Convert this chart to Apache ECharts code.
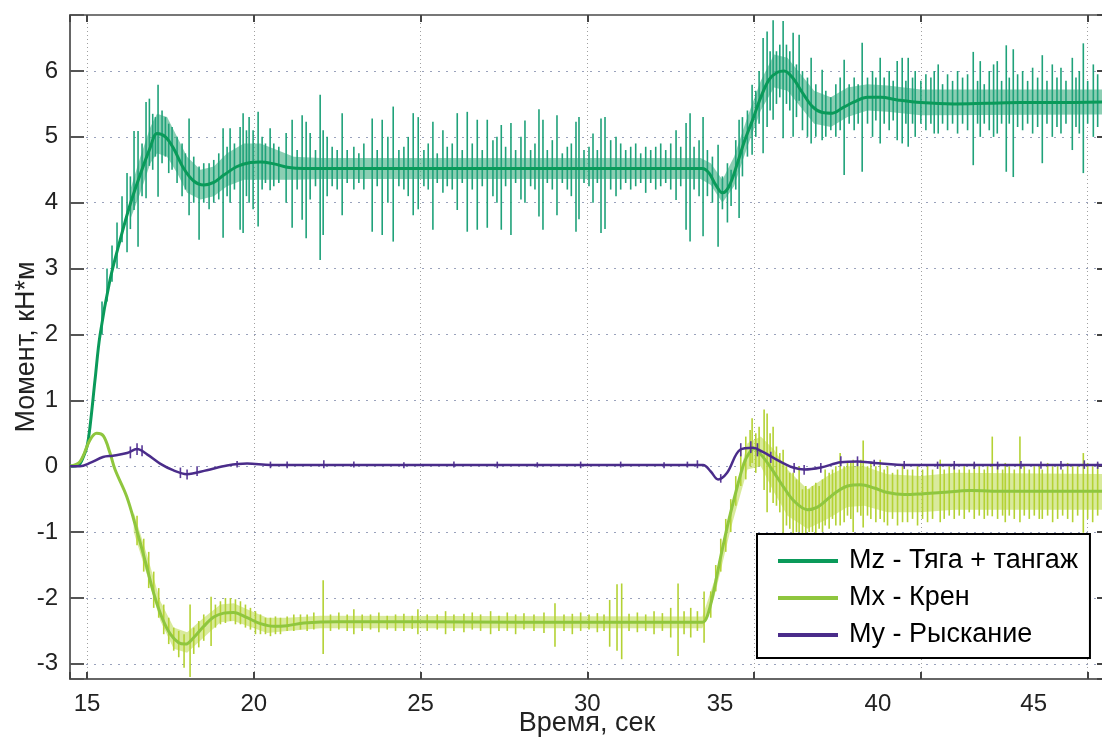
<!DOCTYPE html>
<html>
<head>
<meta charset="utf-8">
<title>Моменты</title>
<script src="https://cdn.jsdelivr.net/npm/echarts@6.0.0/dist/echarts.min.js"></script>
<style>
    html, body { margin: 0; padding: 0; background: #fff; }
    #chart { width: 1102px; height: 740px; }
</style>
</head>
<body>
<div id="chart"></div>
<script>
// названия серий
var seriesNames = ['Mz - Тяга + тангаж', 'Mx - Крен', 'My - Рыскание'];

// сглаженные кривые [время, момент]
var mzLine = [
    [14.49, 0], [14.75, 0.02], [14.88, 0.13], [15.0, 0.3], [15.09, 0.6], [15.24, 1.31], [15.39, 1.99],
    [15.69, 2.83], [15.99, 3.43], [16.29, 3.97], [16.59, 4.42], [16.89, 4.83], [17.1, 5.05], [17.35, 5.0],
    [17.6, 4.82], [17.9, 4.52], [18.2, 4.33], [18.5, 4.27], [18.8, 4.31], [19.1, 4.42], [19.5, 4.55],
    [19.9, 4.61], [20.2, 4.62], [20.6, 4.59], [21.0, 4.54], [21.5, 4.52], [22.5, 4.52], [24, 4.52],
    [26, 4.52], [28, 4.52], [30, 4.52], [32, 4.52], [33.45, 4.52], [33.65, 4.45], [33.85, 4.27],
    [34.05, 4.15], [34.25, 4.25], [34.5, 4.6], [34.7, 4.92], [34.95, 5.25], [35.2, 5.6], [35.45, 5.87],
    [35.7, 5.98], [35.9, 6.0], [36.15, 5.9], [36.45, 5.67], [36.75, 5.46], [37.05, 5.37], [37.35, 5.36],
    [37.65, 5.44], [38.0, 5.53], [38.4, 5.6], [38.8, 5.6], [39.3, 5.56], [40.0, 5.52], [41, 5.5],
    [42, 5.51], [43, 5.52], [44, 5.52], [45.49, 5.53]
];
var mxLine = [
    [14.49, 0], [14.79, 0.07], [15.09, 0.4], [15.29, 0.5], [15.49, 0.46], [15.69, 0.2], [15.84, -0.05],
    [16.19, -0.46], [16.49, -0.97], [16.75, -1.45], [17.0, -1.93], [17.25, -2.3], [17.5, -2.55],
    [17.75, -2.68], [17.95, -2.7], [18.2, -2.6], [18.5, -2.43], [18.8, -2.29], [19.1, -2.23],
    [19.39, -2.22], [19.8, -2.3], [20.2, -2.39], [20.6, -2.43], [21.0, -2.42], [21.5, -2.38],
    [22.5, -2.36], [25, -2.36], [28, -2.37], [31, -2.37], [33.45, -2.37], [33.6, -2.27],
    [33.8, -1.87], [34.0, -1.37], [34.25, -0.8], [34.5, -0.3], [34.7, 0.05], [34.85, 0.2],
    [35.0, 0.27], [35.2, 0.18], [35.5, -0.02], [35.9, -0.33], [36.2, -0.53], [36.6, -0.66],
    [36.9, -0.62], [37.2, -0.5], [37.5, -0.38], [37.8, -0.3], [38.2, -0.28], [38.6, -0.33],
    [39.0, -0.4], [39.5, -0.43], [40.0, -0.42], [40.6, -0.4], [41.5, -0.37], [42.5, -0.38], [45.49, -0.38]
];
var myLine = [
    [14.49, 0], [14.79, 0.0], [15.09, 0.05], [15.48, 0.14], [15.78, 0.16], [16.2, 0.2], [16.5, 0.26],
    [16.8, 0.18], [17.19, 0.04], [17.58, -0.06], [17.99, -0.12], [18.59, -0.06], [19.2, 0.01],
    [19.8, 0.04], [20.5, 0.02], [22, 0.02], [25, 0.02], [28, 0.02], [31, 0.02], [33.47, 0.02],
    [33.7, -0.08], [33.92, -0.2], [34.19, -0.1], [34.58, 0.25], [34.97, 0.28], [35.25, 0.22],
    [35.57, 0.13], [35.9, 0.04], [36.17, -0.02], [36.5, -0.05], [37.0, -0.02], [37.6, 0.06],
    [38.1, 0.07], [38.6, 0.05], [39.58, 0.02], [41, 0.02], [43, 0.02], [45.49, 0.02]
];

// полоса мелкого шума [время, низ, верх]
var mzBand = [
    [16.3, 3.75, 4.2], [16.6, 4.15, 4.7], [16.9, 4.6, 5.15], [17.1, 4.75, 5.35], [17.4, 4.7, 5.3],
    [17.7, 4.45, 5.0], [18.0, 4.15, 4.7], [18.4, 4.05, 4.5], [18.8, 4.1, 4.55], [19.2, 4.25, 4.75],
    [19.7, 4.35, 4.9], [20.2, 4.35, 4.9], [20.7, 4.35, 4.8], [21.2, 4.35, 4.7], [22, 4.36, 4.68],
    [33.4, 4.36, 4.68], [33.7, 4.27, 4.6], [34.05, 4.0, 4.35], [34.4, 4.25, 4.7], [34.8, 4.85, 5.3],
    [35.2, 5.4, 5.85], [35.6, 5.75, 6.25], [36.0, 5.7, 6.2], [36.4, 5.45, 5.95], [36.8, 5.2, 5.7],
    [37.3, 5.15, 5.6], [37.8, 5.3, 5.75], [38.4, 5.4, 5.8], [39.0, 5.38, 5.78], [40.0, 5.33, 5.72],
    [45.49, 5.34, 5.72]
];
var mxBand = [
    [16.4, -1.0, -0.7], [16.8, -1.65, -1.35], [17.2, -2.35, -2.05], [17.6, -2.77, -2.45],
    [18.0, -2.83, -2.52], [18.5, -2.6, -2.3], [19.0, -2.37, -2.1], [19.4, -2.35, -2.08],
    [19.8, -2.42, -2.17], [20.4, -2.53, -2.3], [21.0, -2.5, -2.3], [22, -2.46, -2.27],
    [33.45, -2.46, -2.28], [33.8, -2.0, -1.75], [34.3, -0.95, -0.65], [34.8, -0.05, 0.35],
    [35.2, 0.0, 0.45], [35.6, -0.4, 0.25], [36.0, -0.75, -0.05], [36.6, -0.95, -0.35],
    [37.2, -0.8, -0.15], [37.8, -0.62, 0.0], [38.3, -0.6, 0.0], [39.0, -0.7, -0.12],
    [40.0, -0.7, -0.15], [41.0, -0.66, -0.1], [45.49, -0.66, -0.12]
];

// выбросы [время, низ, верх]
var mzSpikes = [
    [15.45, 2.0, 2.5], [15.6, 2.5, 3.0], [15.75, 2.8, 3.35], [15.9, 3.0, 3.7], [16.05, 3.4, 4.1],
    [16.2, 3.25, 4.45], [16.3, 3.6, 4.4], [16.41, 3.89, 5.09], [16.53, 3.33, 5.09], [16.65, 4.1, 4.9],
    [16.77, 4.07, 5.53], [16.87, 4.56, 5.58], [16.97, 4.5, 5.35], [17.05, 4.7, 5.3], [17.13, 4.09, 5.79],
    [17.25, 4.6, 5.4], [17.35, 4.7, 5.3], [17.45, 4.45, 5.2], [17.55, 4.5, 5.15], [17.7, 4.3, 5.0],
    [17.85, 4.1, 4.9], [17.95, 4.2, 4.75], [18.06, 3.81, 5.28], [18.2, 4.0, 4.7], [18.36, 3.44, 4.55],
    [18.5, 4.0, 4.6], [18.66, 3.9, 4.6], [18.8, 4.0, 4.65], [18.95, 4.05, 4.75], [19.08, 3.47, 5.13],
    [19.2, 4.1, 4.85], [19.29, 4.0, 5.13], [19.42, 4.2, 4.9], [19.59, 3.59, 5.15], [19.68, 3.54, 5.36],
    [19.78, 4.1, 5.1], [19.86, 4.0, 5.3], [19.98, 3.9, 5.1], [20.13, 3.64, 5.38], [20.25, 4.2, 5.0],
    [20.35, 4.3, 4.9], [20.49, 4.19, 5.13], [20.6, 4.25, 4.9], [20.75, 4.3, 4.85], [20.97, 4.0, 5.06],
    [21.15, 3.62, 5.26], [21.3, 4.2, 4.8], [21.45, 3.74, 5.33], [21.57, 3.46, 5.23], [21.69, 4.05, 5.06],
    [21.85, 4.25, 4.8], [21.99, 3.13, 5.64], [22.08, 3.51, 5.1], [22.2, 4.1, 5.0], [22.35, 4.25, 4.85],
    [22.5, 4.2, 4.8], [22.65, 3.81, 5.36], [22.8, 4.3, 4.8], [23.0, 4.2, 4.85], [23.15, 4.3, 4.75],
    [23.3, 4.2, 4.9], [23.55, 3.56, 5.28], [23.7, 4.25, 4.8], [23.85, 3.51, 5.26], [24.02, 4.0, 5.0],
    [24.18, 3.41, 5.46], [24.35, 4.25, 4.8], [24.5, 4.2, 4.85], [24.63, 4.1, 5.0], [24.78, 3.81, 5.36],
    [24.93, 3.9, 5.3], [25.1, 4.25, 4.8], [25.23, 4.2, 4.9], [25.37, 3.59, 5.23], [25.5, 4.3, 4.75],
    [25.67, 4.15, 5.1], [25.8, 4.25, 4.85], [25.95, 4.2, 4.9], [26.1, 3.89, 5.36], [26.25, 4.3, 4.8],
    [26.4, 3.56, 5.38], [26.55, 4.2, 4.9], [26.7, 3.59, 5.26], [26.85, 4.25, 4.8], [27.0, 3.62, 5.26],
    [27.17, 4.1, 4.95], [27.29, 4.0, 5.0], [27.42, 3.59, 5.18], [27.55, 4.25, 4.85], [27.71, 3.51, 5.21],
    [27.85, 4.3, 4.8], [28.01, 4.05, 5.0], [28.13, 4.0, 5.25], [28.3, 4.25, 4.8], [28.43, 4.2, 4.9],
    [28.55, 3.79, 5.42], [28.67, 3.59, 5.26], [28.8, 4.3, 4.8], [28.95, 4.2, 4.95], [29.09, 3.81, 5.33],
    [29.25, 4.3, 4.75], [29.4, 4.2, 4.85], [29.52, 4.1, 4.9], [29.66, 3.56, 5.23], [29.75, 3.75, 5.3],
    [29.9, 4.3, 4.8], [30.05, 4.25, 4.85], [30.17, 4.0, 5.05], [30.3, 4.3, 4.8], [30.41, 3.54, 5.28],
    [30.53, 3.6, 5.3], [30.7, 4.2, 4.95], [30.86, 4.1, 5.0], [31.0, 4.2, 4.9], [31.15, 4.3, 4.8],
    [31.3, 4.2, 4.85], [31.45, 4.25, 4.9], [31.6, 4.3, 4.75], [31.75, 4.15, 4.85], [31.9, 4.3, 4.8],
    [32.05, 4.2, 4.85], [32.2, 4.25, 4.9], [32.35, 4.3, 4.8], [32.5, 4.2, 4.9], [32.66, 4.04, 5.1],
    [32.8, 4.25, 4.85], [32.96, 3.59, 5.21], [33.08, 3.41, 5.36], [33.2, 4.2, 4.85], [33.35, 4.1, 4.95],
    [33.47, 3.49, 5.3], [33.6, 4.1, 4.8], [33.75, 4.0, 4.7], [33.92, 3.33, 4.88], [34.05, 3.9, 4.4],
    [34.2, 3.7, 4.6], [34.31, 3.95, 4.5], [34.45, 4.2, 4.95], [34.55, 3.77, 5.26], [34.65, 4.4, 5.3],
    [34.8, 4.7, 5.4], [34.94, 4.73, 5.79], [35.05, 5.0, 5.7], [35.15, 5.2, 6.0], [35.27, 4.75, 6.5],
    [35.39, 5.15, 6.6], [35.48, 5.4, 6.3], [35.57, 5.26, 6.77], [35.67, 5.5, 6.3], [35.77, 5.6, 6.4],
    [35.87, 4.98, 6.76], [35.97, 5.5, 6.4], [36.07, 5.4, 6.3], [36.17, 5.0, 6.58], [36.27, 5.3, 6.1],
    [36.35, 5.55, 6.55], [36.45, 5.1, 6.0], [36.6, 5.0, 5.9], [36.71, 4.9, 6.2], [36.85, 5.0, 5.8],
    [37.04, 4.95, 6.02], [37.15, 5.0, 5.7], [37.3, 5.1, 5.6], [37.45, 5.0, 5.8], [37.58, 5.1, 5.9],
    [37.7, 4.42, 6.17], [37.85, 5.2, 5.8], [38.0, 5.1, 5.9], [38.12, 5.2, 5.8], [38.24, 4.47, 6.43],
    [38.4, 5.2, 5.9], [38.55, 5.0, 6.0], [38.65, 5.25, 5.9], [38.78, 4.9, 6.2], [38.9, 5.2, 5.9],
    [39.05, 5.1, 6.0], [39.17, 5.25, 5.85], [39.29, 4.95, 6.15], [39.44, 4.9, 6.2], [39.55, 5.2, 5.85],
    [39.62, 4.85, 6.2], [39.75, 5.2, 5.9], [39.83, 5.0, 6.0], [40.0, 5.2, 5.85], [40.15, 5.1, 5.95],
    [40.3, 5.2, 5.9], [40.4, 5.05, 6.0], [40.52, 5.05, 6.1], [40.65, 5.2, 5.8], [40.8, 5.1, 5.95],
    [40.95, 5.2, 5.85], [41.1, 5.05, 6.0], [41.25, 5.2, 5.9], [41.4, 5.1, 5.95], [41.57, 4.57, 6.29],
    [41.7, 5.2, 5.85], [41.78, 5.0, 6.15], [41.9, 5.2, 5.8], [42.05, 5.1, 6.0], [42.18, 5.0, 6.1],
    [42.29, 5.05, 6.15], [42.42, 5.2, 5.85], [42.56, 4.47, 6.39], [42.65, 5.2, 5.9], [42.77, 4.39, 6.33],
    [42.9, 5.15, 5.95], [43.05, 5.1, 6.0], [43.2, 5.2, 5.85], [43.35, 5.05, 6.05], [43.5, 5.15, 5.9],
    [43.64, 4.6, 6.24], [43.78, 5.2, 5.85], [43.94, 5.0, 6.1], [44.08, 5.15, 5.9], [44.2, 5.05, 6.05],
    [44.35, 5.2, 5.85], [44.54, 4.8, 6.2], [44.65, 5.15, 5.9], [44.75, 5.05, 6.0], [44.87, 4.45, 6.42],
    [45.0, 5.2, 5.85], [45.17, 5.0, 6.1], [45.3, 5.15, 5.95]
];
var mxSpikes = [
    [16.5, -1.2, -0.75], [16.7, -1.6, -1.1], [16.85, -1.85, -1.3], [17.0, -2.15, -1.6], [17.15, -2.3, -1.85],
    [17.3, -2.55, -2.1], [17.45, -2.7, -2.3], [17.6, -2.8, -2.45], [17.75, -2.9, -2.5], [17.91, -3.06, -2.55],
    [18.09, -3.2, -2.1], [18.2, -2.85, -2.45], [18.35, -2.75, -2.35], [18.5, -2.65, -2.25], [18.72, -2.73, -1.98],
    [18.85, -2.45, -2.1], [19.0, -2.4, -2.05], [19.15, -2.38, -2.0], [19.3, -2.35, -2.0], [19.45, -2.4, -2.02],
    [19.6, -2.4, -2.05], [19.75, -2.45, -2.1], [19.9, -2.48, -2.15], [20.05, -2.55, -2.2], [20.2, -2.55, -2.25],
    [20.35, -2.55, -2.3], [20.5, -2.58, -2.3], [20.65, -2.55, -2.28], [20.8, -2.55, -2.3], [21.0, -2.5, -2.28],
    [21.2, -2.5, -2.25], [21.4, -2.48, -2.25], [21.6, -2.5, -2.25], [21.8, -2.48, -2.22], [22.08, -2.85, -1.73],
    [22.3, -2.5, -2.25], [22.55, -2.48, -2.22], [22.8, -2.5, -2.25], [23.0, -2.55, -2.17], [23.25, -2.5, -2.25],
    [23.5, -2.48, -2.25], [23.75, -2.52, -2.22], [24.0, -2.48, -2.27], [24.25, -2.5, -2.25], [24.5, -2.5, -2.24],
    [24.75, -2.47, -2.27], [24.92, -2.55, -2.17], [25.2, -2.5, -2.25], [25.5, -2.48, -2.25], [25.75, -2.55, -2.2],
    [26.0, -2.5, -2.25], [26.3, -2.52, -2.24], [26.55, -2.48, -2.22], [26.8, -2.5, -2.25], [27.1, -2.55, -2.2],
    [27.35, -2.5, -2.27], [27.6, -2.5, -2.22], [27.85, -2.55, -2.25], [28.1, -2.48, -2.23], [28.4, -2.5, -2.25],
    [28.7, -2.53, -2.22], [29.03, -2.74, -2.08], [29.3, -2.5, -2.25], [29.55, -2.55, -2.24], [29.8, -2.5, -2.22],
    [30.05, -2.48, -2.25], [30.3, -2.52, -2.23], [30.5, -2.5, -2.25], [30.67, -2.74, -2.03], [30.89, -2.8, -1.79],
    [31.03, -2.93, -1.78], [31.25, -2.5, -2.24], [31.5, -2.52, -2.22], [31.75, -2.5, -2.25], [32.0, -2.55, -2.2],
    [32.25, -2.5, -2.23], [32.5, -2.6, -2.15], [32.72, -2.88, -1.78], [32.9, -2.55, -2.2], [33.1, -2.6, -2.15],
    [33.3, -2.5, -2.2], [33.5, -2.68, -1.9], [33.7, -2.3, -1.9], [33.85, -1.9, -1.5], [34.0, -1.6, -1.1],
    [34.15, -1.3, -0.8], [34.3, -1.0, -0.5], [34.45, -0.6, -0.15], [34.6, -0.3, 0.25], [34.75, -0.2, 0.45],
    [34.88, 0.0, 0.55], [34.94, 0.05, 0.73], [35.05, -0.1, 0.5], [35.15, 0.0, 0.6], [35.3, -0.36, 0.86],
    [35.39, -0.7, 0.8], [35.48, -0.4, 0.5], [35.57, -0.56, 0.6], [35.67, -0.6, 0.3], [35.77, -0.7, 0.2],
    [35.87, -1.01, 0.25], [35.97, -0.9, 0.0], [36.07, -0.95, -0.1], [36.17, -1.12, -0.1], [36.27, -1.0, -0.2],
    [36.35, -1.0, 0.0], [36.45, -1.05, -0.35], [36.55, -1.1, -0.3], [36.65, -1.0, -0.35], [36.75, -1.0, -0.3],
    [36.85, -1.05, -0.25], [36.95, -0.95, -0.3], [37.05, -1.0, -0.2], [37.13, -0.9, -0.05], [37.25, -0.95, -0.1],
    [37.35, -0.8, -0.05], [37.45, -0.9, 0.0], [37.58, -0.9, 0.2], [37.7, -0.85, 0.0], [37.8, -0.75, 0.05],
    [37.9, -0.8, 0.05], [37.97, -1.0, 0.1], [38.1, -0.7, 0.05], [38.2, -0.75, 0.1], [38.27, -0.93, 0.39],
    [38.4, -0.75, 0.0], [38.5, -0.8, 0.05], [38.65, -0.85, 0.0], [38.78, -0.8, 0.1], [38.9, -0.85, -0.05],
    [39.0, -0.9, 0.0], [39.15, -0.8, -0.1], [39.3, -0.9, -0.05], [39.45, -0.85, 0.0], [39.6, -0.85, -0.05],
    [39.75, -0.8, -0.05], [39.9, -0.9, 0.0], [40.05, -0.8, -0.05], [40.2, -0.85, 0.0], [40.35, -0.8, -0.05],
    [40.58, -0.85, 0.1], [40.7, -0.8, -0.05], [40.85, -0.75, 0.0], [41.0, -0.8, 0.0], [41.15, -0.75, -0.05],
    [41.3, -0.8, 0.0], [41.45, -0.7, -0.05], [41.6, -0.8, 0.05], [41.75, -0.75, 0.0], [41.9, -0.8, -0.05],
    [42.0, -0.75, 0.0], [42.14, -0.76, 0.45], [42.3, -0.8, 0.0], [42.45, -0.75, -0.05], [42.53, -0.85, 0.05],
    [42.65, -0.75, 0.0], [42.8, -0.8, -0.05], [42.97, -0.85, 0.45], [43.1, -0.75, 0.0], [43.25, -0.8, -0.05],
    [43.4, -0.75, 0.0], [43.55, -0.8, 0.0], [43.64, -0.8, -0.05], [43.8, -0.75, 0.05], [43.95, -0.85, 0.0],
    [44.1, -0.8, 0.0], [44.25, -0.75, -0.05], [44.4, -0.8, 0.05], [44.55, -0.85, 0.0], [44.7, -0.75, 0.0],
    [44.87, -1.01, 0.2], [45.0, -0.8, 0.05], [45.15, -0.85, 0.0], [45.3, -0.75, 0.05]
];
var mySpikes = [
    [16.3, 0.12, 0.3], [16.5, 0.17, 0.35], [16.65, 0.15, 0.32], [17.8, -0.18, -0.02], [18.0, -0.2, -0.05],
    [18.3, -0.15, 0.0], [19.5, -0.02, 0.08], [20.5, -0.03, 0.07], [21.0, -0.03, 0.07], [22.1, -0.03, 0.09],
    [23.0, -0.02, 0.07], [24.5, -0.03, 0.06], [26.0, -0.02, 0.07], [27.3, -0.03, 0.07], [28.5, -0.02, 0.06],
    [29.8, -0.03, 0.07], [31.0, -0.02, 0.07], [32.3, -0.03, 0.06], [33.0, -0.02, 0.07], [33.3, -0.03, 0.09],
    [34.0, -0.25, -0.12], [34.6, 0.15, 0.35], [34.9, 0.2, 0.38], [35.1, 0.15, 0.35], [35.5, 0.05, 0.22],
    [36.2, -0.1, 0.05], [36.5, -0.13, 0.02], [37.0, -0.1, 0.05], [37.6, 0.0, 0.15], [38.1, 0.0, 0.15],
    [38.6, 0.0, 0.1], [39.5, -0.04, 0.08], [40.5, -0.04, 0.07], [41.0, -0.05, 0.08], [41.6, -0.04, 0.07],
    [42.3, -0.05, 0.07], [43.0, -0.04, 0.08], [43.6, -0.04, 0.07], [44.2, -0.05, 0.08], [44.9, -0.04, 0.09],
    [45.3, -0.04, 0.07]
];

var mzColor = '#0a9a5a', mzSpikeColor = '#1fa27a', mzBandColor = '#3dae80';
var mxColor = '#8fc63e', mxSpikeColor = '#b4d234', mxBandColor = '#bfdc5a';
var myColor = '#4a2c8a', mySpikeColor = '#5a3a98';
var fontName = 'Liberation Sans';

// вертикальные штрихи выбросов
function spikeSeries(data, color, z) {
    return {
        type: 'custom',
        data: data,
        encode: {x: 0, y: [1, 2]},
        clip: true,
        silent: true,
        z: z,
        renderItem: function (params, api) {
            var p1 = api.coord([api.value(0), api.value(1)]);
            var p2 = api.coord([api.value(0), api.value(2)]);
            return {
                type: 'line',
                shape: {x1: p1[0], y1: p1[1], x2: p2[0], y2: p2[1]},
                style: {stroke: color, lineWidth: 1.6}
            };
        }
    };
}

// полоса шума вокруг кривой
function bandSeries(data, color, z) {
    return {
        type: 'custom',
        data: data,
        encode: {x: 0, y: [1, 2]},
        clip: true,
        silent: true,
        z: z,
        renderItem: function (params, api) {
            if (params.dataIndex !== 0) return null;
            var pts = [];
            for (var i = 0; i < data.length; i++) pts.push(api.coord([data[i][0], data[i][2]]));
            for (var j = data.length - 1; j >= 0; j--) pts.push(api.coord([data[j][0], data[j][1]]));
            return {
                type: 'polygon',
                shape: {points: pts},
                style: {fill: color, opacity: 0.6}
            };
        }
    };
}

function lineSeries(name, data, color, width, z) {
    return {
        name: name,
        type: 'line',
        data: data,
        smooth: 0.35,
        showSymbol: false,
        silent: true,
        z: z,
        itemStyle: {color: color},
        lineStyle: {color: color, width: width}
    };
}

var chart = echarts.init(document.getElementById('chart'));

var tickShift = {35: 'a', 40: 'b', 45: 'c'};

var option = {
    backgroundColor: '#fff',
    animation: false,
    grid: {left: 70, right: -2, top: 15, bottom: 61, containLabel: false, outerBoundsMode: 'none'},
    legend: {
        data: seriesNames,
        orient: 'vertical',
        left: 757,
        top: 534,
        z: 20,
        backgroundColor: '#fff',
        borderColor: '#000',
        borderWidth: 2,
        borderRadius: 0,
        padding: [13, 12, 9, 21],
        itemGap: 9,
        itemWidth: 60,
        itemHeight: 4,
        icon: 'rect',
        selectedMode: false,
        textStyle: {fontFamily: fontName, fontSize: 27, color: '#000', lineHeight: 28, padding: [0, 0, 0, 6]}
    },
    xAxis: [{
        type: 'value',
        min: 14.49,
        max: 45.49,
        name: 'Время, сек',
        nameLocation: 'middle',
        nameGap: 31,
        nameMoveOverlap: false,
        nameTextStyle: {fontFamily: fontName, fontSize: 27, color: '#222'},
        axisLine: {onZero: false, lineStyle: {color: '#666', width: 2}},
        axisTick: {inside: true, length: 7, lineStyle: {color: '#444', width: 2}},
        axisLabel: {
            fontFamily: fontName, fontSize: 24, color: '#222', margin: 13,
            formatter: function (v) {
                if (Math.abs(v - Math.round(v)) > 1e-6) return '';
                if (tickShift[v]) return '{' + tickShift[v] + '|' + v + '}';
                return String(v);
            },
            rich: {
                a: {fontFamily: fontName, fontSize: 24, color: '#222', padding: [0, 68, 0, 0]},
                b: {fontFamily: fontName, fontSize: 24, color: '#222', padding: [0, 86, 0, 0]},
                c: {fontFamily: fontName, fontSize: 24, color: '#222', padding: [0, 108, 0, 0]}
            }
        },
        splitLine: {show: true, lineStyle: {color: '#a0a0a0', width: 1, type: [1, 3]}}
    }, {
        type: 'value',
        position: 'top',
        min: 14.49,
        max: 45.49,
        axisLine: {onZero: false, lineStyle: {color: '#777', width: 2}},
        axisTick: {inside: true, length: 7, lineStyle: {color: '#444', width: 2}},
        axisLabel: {show: false},
        splitLine: {show: false}
    }],
    yAxis: [{
        type: 'value',
        min: -3.23,
        max: 6.85,
        splitNumber: 10,
        name: 'Момент, кН*м',
        nameLocation: 'middle',
        nameGap: 30,
        nameMoveOverlap: false,
        nameTextStyle: {fontFamily: fontName, fontSize: 27, color: '#222'},
        axisLine: {show: true, onZero: false, lineStyle: {color: '#666', width: 2}},
        axisTick: {show: true, inside: true, length: 14, lineStyle: {color: '#555', width: 2}},
        axisLabel: {
            fontFamily: fontName, fontSize: 24, color: '#222', margin: 12,
            formatter: function (v) {
                if (Math.abs(v - Math.round(v)) > 1e-6) return '';
                return String(Math.round(v));
            }
        },
        splitLine: {show: true, lineStyle: {color: '#9aa2bc', width: 1, type: [2, 6]}}
    }, {
        type: 'value',
        position: 'right',
        min: -3.23,
        max: 6.85,
        splitNumber: 10,
        axisLine: {show: true, onZero: false, lineStyle: {color: '#777', width: 2}},
        axisTick: {show: true, inside: true, length: 7, lineStyle: {color: '#444', width: 2}},
        axisLabel: {show: false},
        splitLine: {show: false}
    }],
    series: [
        bandSeries(mzBand, mzBandColor, 1),
        spikeSeries(mzSpikes, mzSpikeColor, 2),
        lineSeries(seriesNames[0], mzLine, mzColor, 3, 3),
        bandSeries(mxBand, mxBandColor, 4),
        spikeSeries(mxSpikes, mxSpikeColor, 5),
        lineSeries(seriesNames[1], mxLine, mxColor, 3, 6),
        spikeSeries(mySpikes, mySpikeColor, 7),
        lineSeries(seriesNames[2], myLine, myColor, 2.5, 8)
    ]
};

chart.setOption(option);
</script>
</body>
</html>
